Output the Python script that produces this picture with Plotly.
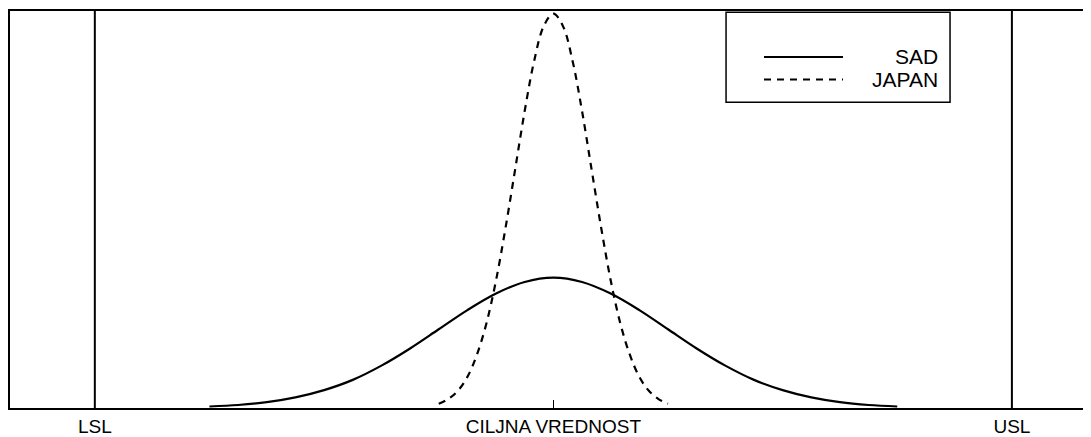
import plotly.graph_objects as go

# ---- data ----
spec_labels = ["LSL", "CILJNA VREDNOST", "USL"]
spec_positions = [-4.0, 0.0, 4.0]
LSL = -4.0
USL = 4.0

series_names = ["SAD", "JAPAN"]

sad_x = [-3.0, -2.75, -2.5, -2.25, -2.0, -1.75, -1.5, -1.25, -1.0, -0.75, -0.5, -0.25,
         0.0, 0.25, 0.5, 0.75, 1.0, 1.25, 1.5, 1.75, 2.0, 2.25, 2.5, 2.75, 3.0]
sad_y = [0.0045, 0.009, 0.0175, 0.032, 0.054, 0.085, 0.128, 0.18, 0.238, 0.296, 0.346, 0.381,
         0.394, 0.381, 0.346, 0.296, 0.238, 0.18, 0.128, 0.085, 0.054, 0.032, 0.0175, 0.009, 0.0045]

japan_x = [-1.0, -0.917, -0.833, -0.75, -0.667, -0.583, -0.5, -0.417, -0.333, -0.25, -0.167, -0.083,
           0.0, 0.083, 0.167, 0.25, 0.333, 0.417, 0.5, 0.583, 0.667, 0.75, 0.833, 0.917, 1.0]
japan_y = [0.013, 0.027, 0.052, 0.094, 0.161, 0.257, 0.386, 0.545, 0.722, 0.898, 1.05, 1.155,
           1.192, 1.155, 1.05, 0.898, 0.722, 0.545, 0.386, 0.257, 0.161, 0.094, 0.052, 0.027, 0.013]

y_top = 1.2
x_range = [-4.74, 4.69]

FONT = "Liberation Sans, Arial, sans-serif"
BLACK = "#000000"
DASH = "7px,6px"

fig = go.Figure()

# spec limit lines
for xv in (LSL, USL):
    fig.add_trace(go.Scatter(x=[xv, xv], y=[0, y_top], mode="lines",
                             line=dict(color=BLACK, width=2), showlegend=False,
                             hoverinfo="skip"))

fig.add_trace(go.Scatter(x=sad_x, y=sad_y, mode="lines", name=series_names[0],
                         line=dict(color=BLACK, width=2.2, shape="spline"), showlegend=False))
fig.add_trace(go.Scatter(x=japan_x, y=japan_y, mode="lines", name=series_names[1],
                         line=dict(color=BLACK, width=2.2, dash=DASH, shape="spline"),
                         showlegend=False))

# manual legend box (matching the reference layout)
lx0, lx1, ly0, ly1 = 0.6624, 0.8696, 0.77, 0.997
fig.add_shape(type="rect", xref="paper", yref="paper", x0=lx0, x1=lx1, y0=ly0, y1=ly1,
              line=dict(color=BLACK, width=1.5), fillcolor="white", layer="above")
legend_rows = [(0.8843, None), (0.8275, DASH)]
for name, (yy, dash) in zip(series_names, legend_rows):
    style = dict(color=BLACK, width=2)
    if dash:
        style["dash"] = dash
    fig.add_shape(type="line", xref="paper", yref="paper", x0=0.6975, x1=0.7706, y0=yy, y1=yy,
                  line=style, layer="above")
    fig.add_annotation(xref="paper", yref="paper", x=0.8603, y=yy, text=name, showarrow=False,
                       xanchor="right", yanchor="middle",
                       font=dict(family=FONT, size=21, color=BLACK))

fig.update_layout(
    width=1083, height=429,
    margin=dict(l=2, r=0, t=3, b=26),
    paper_bgcolor="white", plot_bgcolor="white",
    font=dict(family=FONT, color=BLACK),
    showlegend=False,
)
fig.update_xaxes(range=x_range, showgrid=False, zeroline=False,
                 showline=True, mirror=True, linecolor=BLACK, linewidth=2,
                 tickmode="array", tickvals=spec_positions, ticktext=spec_labels,
                 ticks="inside", ticklen=8, tickwidth=1, tickcolor=BLACK,
                 tickfont=dict(family=FONT, size=19, color=BLACK))
fig.update_yaxes(range=[0, y_top], showgrid=False, zeroline=False,
                 showline=True, linecolor=BLACK, linewidth=2,
                 showticklabels=False, ticks="")

fig.write_html("out.html")
